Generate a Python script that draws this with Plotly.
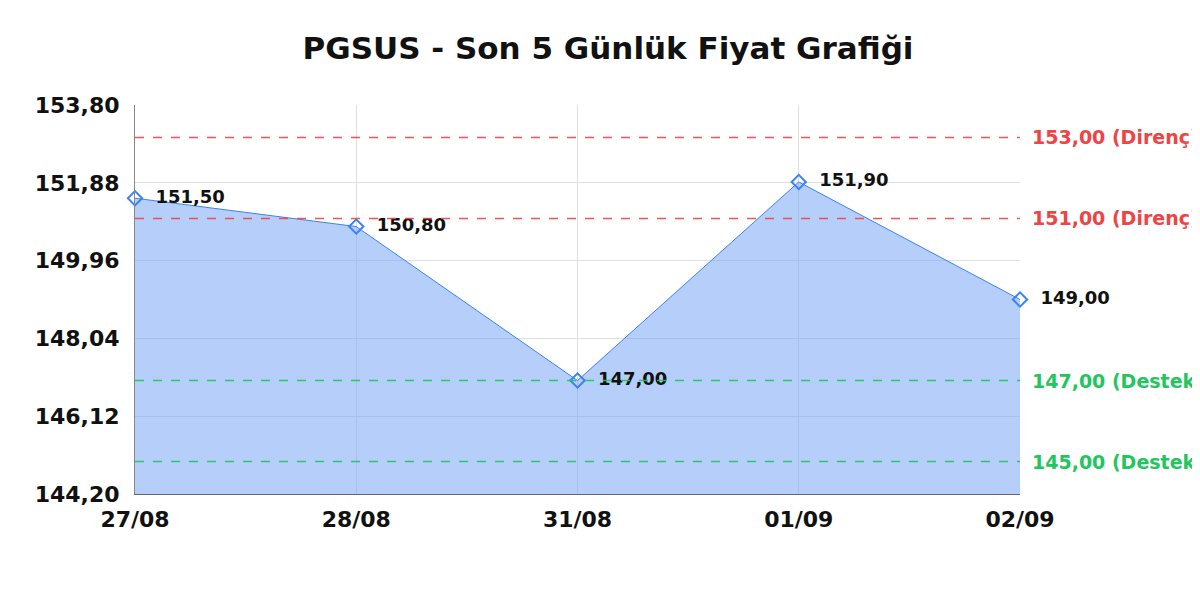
import plotly.graph_objects as go

# data
dates = ["27/08", "28/08", "31/08", "01/09", "02/09"]
prices = [151.50, 150.80, 147.00, 151.90, 149.00]
resistance = [153.00, 151.00]
support = [147.00, 145.00]
y_ticks = [144.20, 146.12, 148.04, 149.96, 151.88, 153.80]

def tr(v):
    return f"{v:.2f}".replace(".", ",")

fig = go.Figure()

fig.add_trace(go.Scatter(
    x=dates, y=prices,
    mode="lines+markers+text",
    fill="tozeroy",
    fillcolor="rgba(120,165,245,0.55)",
    line=dict(color="#3b82f6", width=1),
    marker=dict(symbol="diamond-open", size=11, color="#3b82f6", line=dict(width=2)),
    text=["  " + tr(p) for p in prices],
    textposition="middle right",
    textfont=dict(family="DejaVu Sans", size=18, color="#111111", weight="bold"),
    cliponaxis=False,
    hoverinfo="skip",
))

# support / resistance lines
for lvl in resistance:
    fig.add_hline(y=lvl, line=dict(color="#ef4444", width=1.5, dash="dash"), opacity=0.9)
    fig.add_annotation(x=1.0, xref="paper", y=lvl, yref="y", text=tr(lvl) + " (Direnç)",
                       showarrow=False, xanchor="left", xshift=10,
                       font=dict(family="DejaVu Sans", size=19, color="#ef4444", weight="bold"))
for lvl in support:
    fig.add_hline(y=lvl, line=dict(color="#22c55e", width=1.5, dash="dash"), opacity=0.9)
    fig.add_annotation(x=1.0, xref="paper", y=lvl, yref="y", text=tr(lvl) + " (Destek)",
                       showarrow=False, xanchor="left", xshift=10,
                       font=dict(family="DejaVu Sans", size=19, color="#22c55e", weight="bold"))

fig.update_layout(
    width=1200, height=600,
    plot_bgcolor="white", paper_bgcolor="white",
    margin=dict(l=127, r=188, t=97, b=114),
    showlegend=False,
    title=dict(text="PGSUS - Son 5 Günlük Fiyat Grafiği", x=0.5, xanchor="center", y=0.933, yanchor="middle",
               font=dict(family="DejaVu Sans", size=31, color="#111111", weight="bold")),
)
fig.update_xaxes(
    type="category", range=[0, 4],
    showgrid=True, gridcolor="#e0e0e0", gridwidth=1,
    showline=True, linecolor="#666666", linewidth=1,
    ticks="", ticklabelstandoff=6,
    tickfont=dict(family="DejaVu Sans", size=22, color="#111111", weight="bold"),
)
fig.update_yaxes(
    range=[144.20, 153.80],
    tickvals=y_ticks, ticktext=[tr(v) for v in y_ticks],
    showgrid=True, gridcolor="#e0e0e0", gridwidth=1,
    showline=True, linecolor="#888888", linewidth=1,
    zeroline=False, ticks="", ticklabelstandoff=10,
    tickfont=dict(family="DejaVu Sans", size=22, color="#111111", weight="bold"),
)

fig.write_html("out.html")
